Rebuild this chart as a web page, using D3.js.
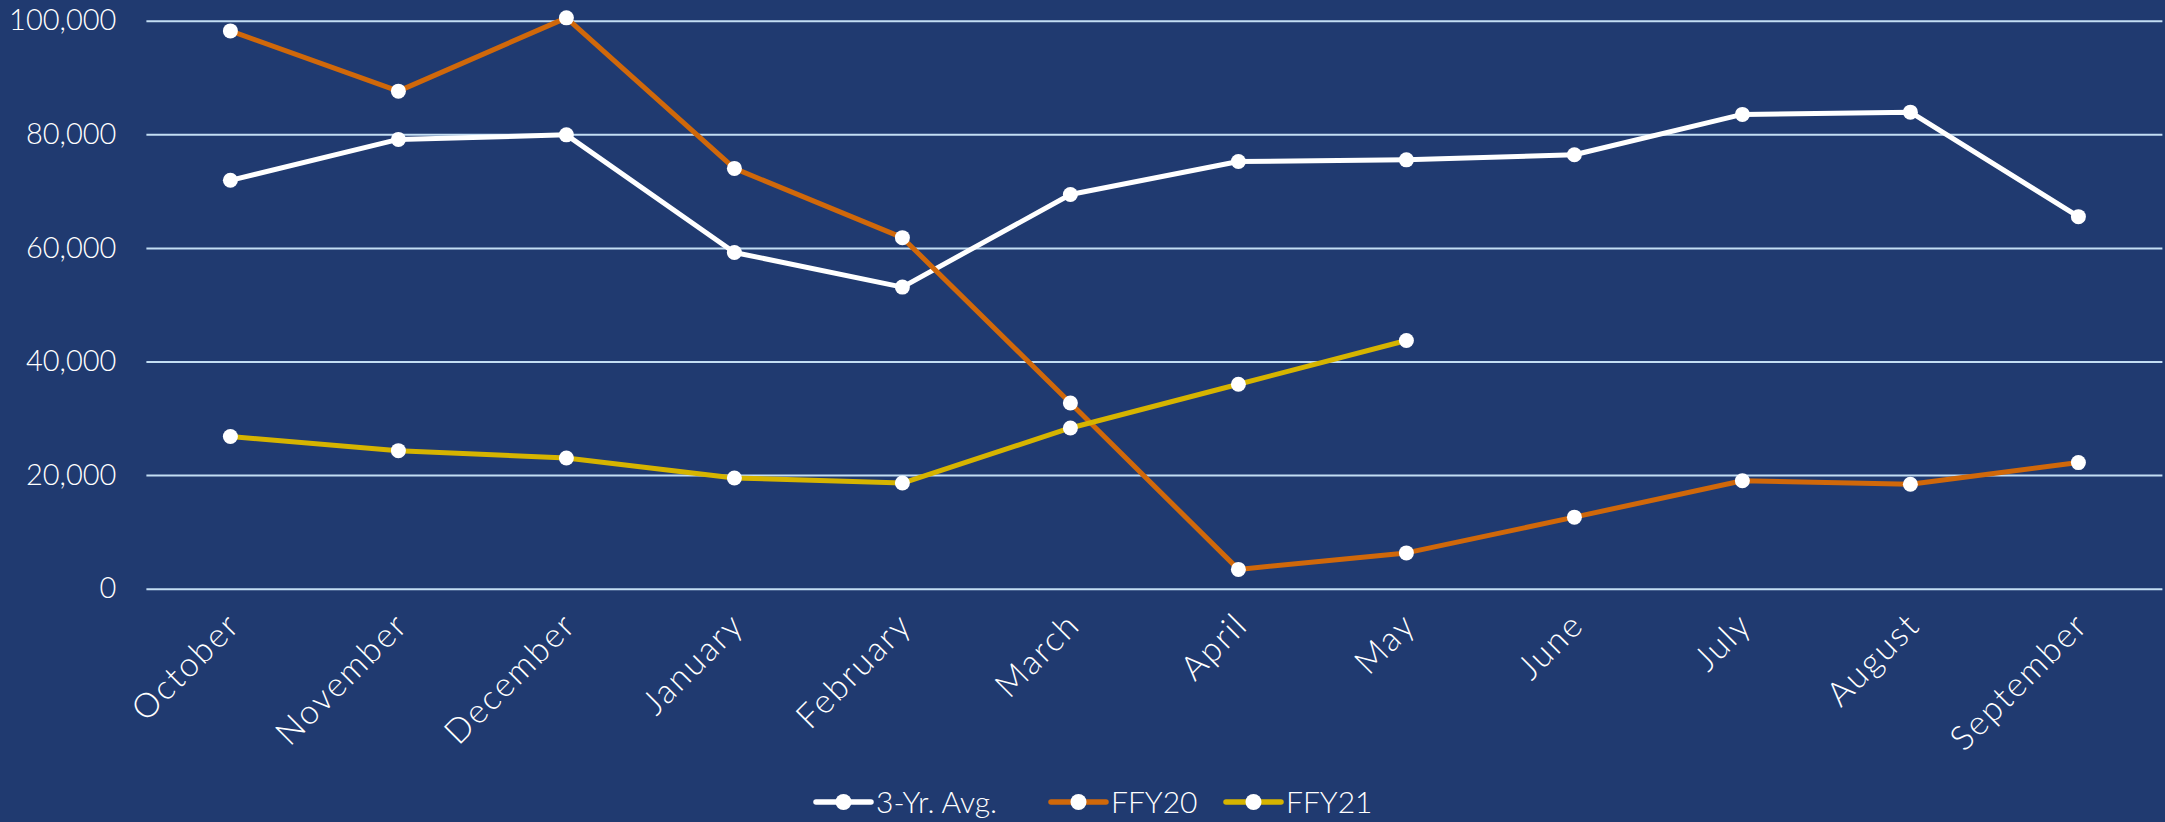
<!DOCTYPE html>
<html>
<head>
<meta charset="utf-8">
<script src="https://cdn.jsdelivr.net/npm/d3@7"></script>
<style>
  html, body { margin: 0; padding: 0; background: #203a70; }
  svg { display: block; }
</style>
</head>
<body>
<svg id="chart" width="2165" height="822"></svg>
<script>
// Monthly counts by federal fiscal year (Oct–Sep)
const months = ["October", "November", "December", "January", "February", "March",
                "April", "May", "June", "July", "August", "September"];
const avg3yr = [71900, 79100, 79900, 59200, 53100, 69400, 75200, 75500, 76400, 83500, 83900, 65500];
const ffy20  = [98200, 87600, 100500, 74000, 61800, 32700, 3400, 6300, 12600, 19000, 18400, 22200];
const ffy21  = [26800, 24300, 23000, 19500, 18600, 28300, 36000, 43700];
const yTicks = [0, 20000, 40000, 60000, 80000, 100000];

const seriesNames  = ["3-Yr. Avg.", "FFY20", "FFY21"];
const seriesValues = [avg3yr, ffy20, ffy21];
const seriesColors = ["#ffffff", "#d0680a", "#d6b400"];

const W = 2165, H = 822;
const plot = { left: 146.4, right: 2162.4, top: 20.7, bottom: 588.7 };

const svg = d3.select("#chart");
svg.append("rect").attr("width", W).attr("height", H).attr("fill", "#203a70");

const x = d3.scaleBand().domain(months).range([plot.left, plot.right]).padding(0);
const y = d3.scaleLinear().domain([0, 100000]).range([plot.bottom, plot.top]);
const cx = m => x(m) + x.bandwidth() / 2;

// horizontal gridlines
const grid = svg.append("g")
  .attr("transform", `translate(${plot.left},0)`)
  .call(d3.axisLeft(y).tickValues(yTicks).tickSize(-(plot.right - plot.left)).tickFormat(""));
grid.select(".domain").remove();
grid.selectAll("line").attr("stroke", "#c3def3").attr("stroke-width", 2);

// y axis labels
const yAxis = svg.append("g")
  .attr("transform", `translate(${plot.left},0)`)
  .call(d3.axisLeft(y).tickValues(yTicks).tickSize(0).tickPadding(30).tickFormat(d3.format(",")));
yAxis.select(".domain").remove();
yAxis.selectAll("text")
  .attr("fill", "#ffffff")
  .style("font-family", "Lato, 'Open Sans', sans-serif")
  .style("font-weight", 300)
  .style("font-size", "29px");

// x axis labels, rotated
const xAxis = svg.append("g")
  .attr("transform", `translate(0,${plot.bottom})`)
  .call(d3.axisBottom(x).tickSize(0).tickFormat(d => d));
xAxis.select(".domain").remove();
xAxis.selectAll("text")
  .attr("fill", "#ffffff")
  .attr("y", 0).attr("dy", "0.35em")
  .attr("text-anchor", "end")
  .attr("transform", "translate(3,30) rotate(-45)")
  .style("font-family", "Lato, 'Open Sans', sans-serif")
  .style("font-weight", 300)
  .style("letter-spacing", "2px")
  .style("font-size", "34px");

// series lines and markers
const line = d3.line()
  .x((d, i) => cx(months[i]))
  .y(d => y(d));

seriesValues.forEach((vals, s) => {
  const g = svg.append("g");
  g.append("path")
    .datum(vals)
    .attr("d", line)
    .attr("fill", "none")
    .attr("stroke", seriesColors[s])
    .attr("stroke-width", 5)
    .attr("stroke-linejoin", "round")
    .attr("stroke-linecap", "round");
  g.selectAll("circle")
    .data(vals)
    .join("circle")
    .attr("cx", (d, i) => cx(months[i]))
    .attr("cy", d => y(d))
    .attr("r", 7.5)
    .attr("fill", "#ffffff");
});

// legend
const legendItems = [
  { x0: 816, text: 876 },
  { x0: 1051, text: 1111 },
  { x0: 1226, text: 1286 }
];
const legendY = 802;
const legend = svg.append("g");
seriesNames.forEach((name, s) => {
  const it = legendItems[s];
  legend.append("line")
    .attr("x1", it.x0).attr("x2", it.x0 + 55)
    .attr("y1", legendY).attr("y2", legendY)
    .attr("stroke", seriesColors[s]).attr("stroke-width", 5.5)
    .attr("stroke-linecap", "round");
  legend.append("circle")
    .attr("cx", it.x0 + 27.5).attr("cy", legendY).attr("r", 8)
    .attr("fill", "#ffffff");
  legend.append("text")
    .attr("x", it.text).attr("y", legendY).attr("dy", "0.35em")
    .attr("fill", "#ffffff")
    .style("font-family", "Lato, 'Open Sans', sans-serif")
    .style("font-weight", 300)
    .style("font-size", "30px")
    .text(name);
});
</script>
</body>
</html>
